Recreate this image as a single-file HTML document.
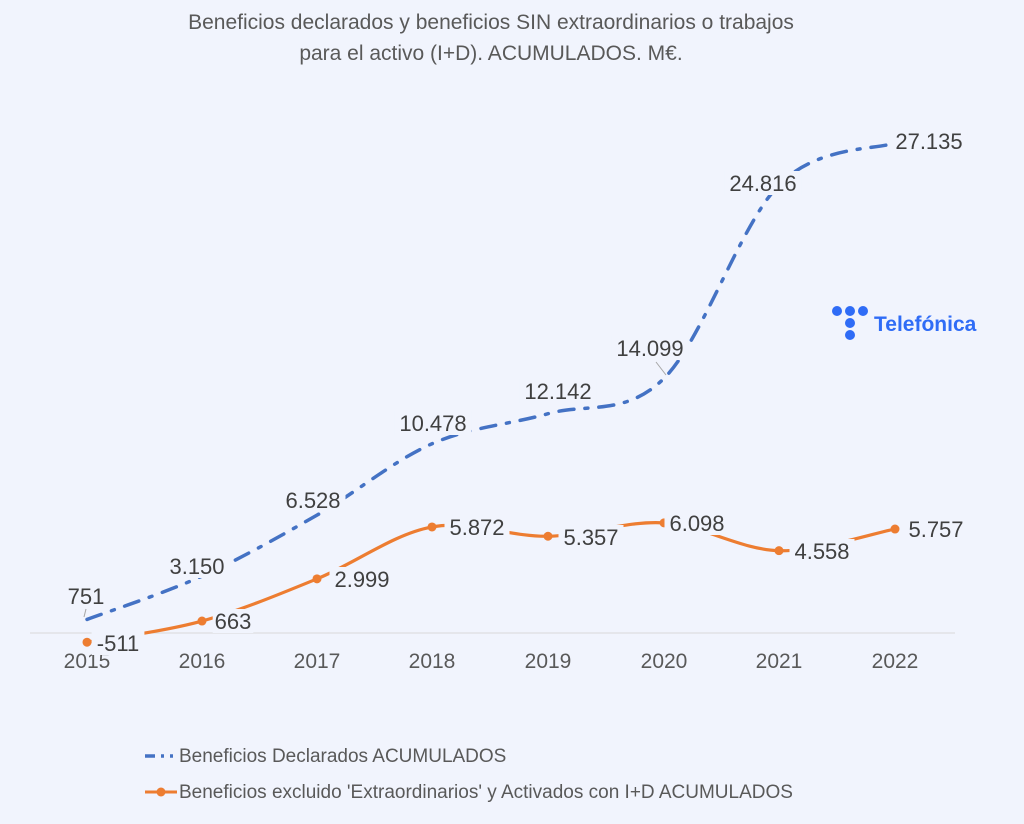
<!DOCTYPE html>
<html><head><meta charset="utf-8"><style>
body{margin:0;background:#f1f4fd;}
svg{display:block;font-family:"Liberation Sans",sans-serif;}
</style></head><body>
<svg id="s" width="1024" height="824" viewBox="0 0 1024 824">
<rect width="1024" height="824" fill="#f1f4fd"/>
<text x="491" y="29" text-anchor="middle" font-size="21" fill="#595959">Beneficios declarados y beneficios SIN extraordinarios o trabajos</text>
<text x="491" y="60" text-anchor="middle" font-size="21" fill="#595959">para el activo (I+D). ACUMULADOS. M€.</text>
<line x1="30" y1="633" x2="955" y2="633" stroke="#d9d9d9" stroke-width="1"/>
<g font-size="21" fill="#595959" text-anchor="middle">
<text x="87" y="668">2015</text><text x="202" y="668">2016</text><text x="317" y="668">2017</text><text x="432" y="668">2018</text><text x="548" y="668">2019</text><text x="664" y="668">2020</text><text x="779" y="668">2021</text><text x="895" y="668">2022</text>
</g>
<path id="blue" fill="none" stroke="#4472c4" stroke-width="3.5" stroke-dasharray="15 11 3 11" stroke-linecap="round"/>
<path id="orange" fill="none" stroke="#ed7d31" stroke-width="3.2"/>
<g id="marks" fill="#ed7d31"></g>
<line x1="86" y1="609" x2="84" y2="617" stroke="#a6a6a6"/>
<line x1="656" y1="362" x2="666" y2="375" stroke="#a6a6a6"/>
<g id="labels" font-size="22" fill="#404040"></g>
<g transform="translate(832,302)" fill="#2f6cf6">
<circle cx="5" cy="9" r="5"/><circle cx="18" cy="9" r="5"/><circle cx="31" cy="9" r="5"/><circle cx="18" cy="21" r="5"/><circle cx="18" cy="33" r="5"/>
<text x="42" y="29" font-size="21" font-weight="bold">Telefónica</text>
</g>
<line x1="145" y1="756" x2="173" y2="756" stroke="#4472c4" stroke-width="3.5" stroke-dasharray="10 6 3 6"/>
<text x="179" y="762" font-size="19" fill="#595959">Beneficios Declarados ACUMULADOS</text>
<line x1="145" y1="792" x2="177" y2="792" stroke="#ed7d31" stroke-width="3"/>
<circle cx="161" cy="792" r="4.5" fill="#ed7d31"/>
<text x="179" y="798" font-size="19" fill="#595959">Beneficios excluido 'Extraordinarios' y Activados con I+D ACUMULADOS</text>
</svg>
<script>
var xs=[87,202,317,432,548,664,779,895];
var b=[751,3150,6528,10478,12142,14099,24816,27135], o=[-511,663,2999,5872,5357,6098,4558,5757];
function y(v){return 633-v*0.01806;}
function path(vals){var p=xs.map(function(x,i){return[x,y(vals[i])]});var d="M"+p[0][0]+","+p[0][1];
for(var i=0;i<p.length-1;i++){var p0=p[i-1]||p[i],p1=p[i],p2=p[i+1],p3=p[i+2]||p2;
d+=" C"+(p1[0]+(p2[0]-p0[0])/6)+","+(p1[1]+(p2[1]-p0[1])/6)+" "+(p2[0]-(p3[0]-p1[0])/6)+","+(p2[1]-(p3[1]-p1[1])/6)+" "+p2[0]+","+p2[1];}return d;}
document.getElementById("blue").setAttribute("d",path(b));
document.getElementById("orange").setAttribute("d",path(o));
var m="";xs.forEach(function(x,i){m+='<circle cx="'+x+'" cy="'+y(o[i])+'" r="4.5"/>';});
document.getElementById("marks").innerHTML=m;
var L=[["751",86,596],["3.150",197,566],["6.528",313,500],["10.478",433,423],["12.142",558,391],["14.099",650,348],["24.816",763,183],["27.135",929,141],
["-511",118,643],["663",233,621],["2.999",362,579],["5.872",477,527],["5.357",591,537],["6.098",697,523],["4.558",822,551],["5.757",936,529]];
var h="";L.forEach(function(l){var w=l[0].length*12.2+4;h+='<rect x="'+(l[1]-w/2)+'" y="'+(l[2]-12)+'" width="'+w+'" height="24" fill="#f1f4fd"/><text x="'+l[1]+'" y="'+(l[2]+8)+'" text-anchor="middle">'+l[0]+'</text>';});
document.getElementById("labels").innerHTML=h;
</script>
</body></html>
